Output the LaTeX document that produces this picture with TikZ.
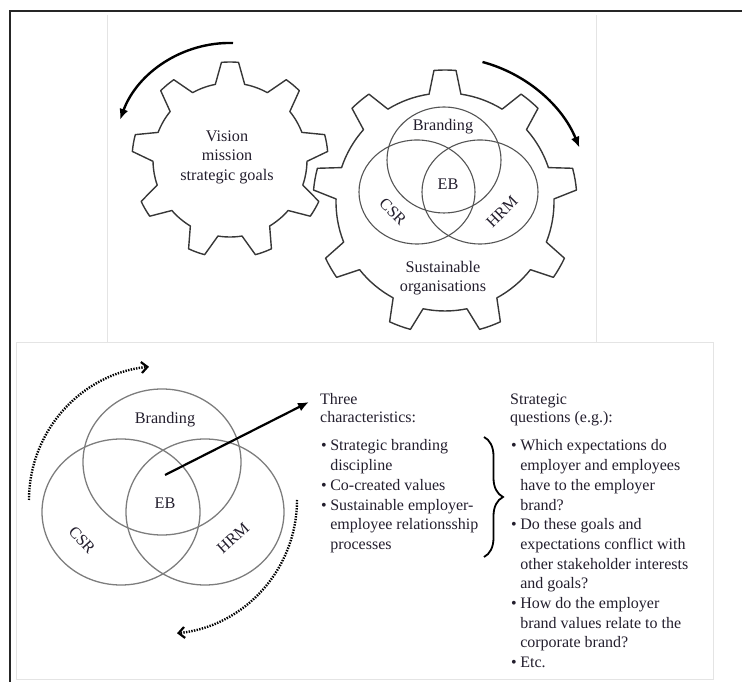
\documentclass[tikz,border=0pt]{standalone}
\usepackage{fontspec}
\setmainfont{Liberation Serif}
\usetikzlibrary{arrows.meta, positioning, decorations.pathreplacing}
\definecolor{geargray}{RGB}{55, 55, 55}
\definecolor{venngray}{RGB}{85, 85, 85}
\definecolor{vennlight}{RGB}{125, 125, 125}
\definecolor{panelgray}{RGB}{228, 228, 228}
\definecolor{inkdark}{RGB}{35, 30, 45}

\tikzset{
  gearline/.style={draw=geargray, line width=1.4pt, line join=round},
  vennline/.style={draw=venngray, line width=1.1pt},
  vennlow/.style={draw=vennlight, line width=1.3pt},
  gtext/.style={font=\fontsize{16.2}{19.5}\selectfont, text=inkdark, inner sep=0pt, align=center},
  coltext/.style={font=\fontsize{16}{19.7}\selectfont, text=inkdark, inner sep=0pt},
  rotarrow/.style={line width=2.4pt, -{Latex[length=11pt, width=9pt]}},
  dotarrow/.style={line width=2.4pt, dash pattern=on 1.4pt off 1.3pt, -{Straight Barb[length=6pt, width=11pt, line width=2.2pt]}},
}

\begin{document}
\begin{tikzpicture}[x=1pt, y=1pt]
    \useasboundingbox (0,0) rectangle (742,682);

    % frame and panels
    \draw[panelgray, line width=0.9pt] (107,667) -- (107,340);
    \draw[panelgray, line width=0.9pt] (596,667) -- (596,340);
    \draw[panelgray, line width=0.9pt] (16,3) rectangle (713,340);
    \draw[black!85, line width=1.8pt] (742,671) -- (10,671) -- (10,0);

    % left gear
    \draw[gearline, shift={(230,522)}] (79:77)
      \foreach \k in {0,...,8} {
        -- ({90+40*\k-5}:98) arc[start angle={90+40*\k-5}, end angle={90+40*\k+5}, radius=98]
        -- ({90+40*\k+11}:77) arc[start angle={90+40*\k+11}, end angle={90+40*\k+29}, radius=77]
      } -- cycle;

    % right gear
    \draw[gearline, shift={(445,480)}] (81.6:109)
      \foreach \k in {0,...,8} {
        -- ({90+40*\k-4.8}:132) arc[start angle={90+40*\k-4.8}, end angle={90+40*\k+4.8}, radius=132]
        -- ({90+40*\k+8.4}:109) arc[start angle={90+40*\k+8.4}, end angle={90+40*\k+31.6}, radius=109]
      } -- cycle;

    % rotation arrows
    \draw[rotarrow] (233,639) arc[start angle=88.5, end angle=160, radius=117];
    \draw[rotarrow] (482.5,620) arc[start angle=75, end angle=22, radius=145];

    \node[gtext] (vision) at (227,525) {Vision\\mission\\strategic goals};

    % venn inside the right gear
    \draw[vennline] (444,522) ellipse[x radius=57, y radius=53];
    \draw[vennline] (417,490) ellipse[x radius=58, y radius=52];
    \draw[vennline] (480,490) ellipse[x radius=58, y radius=52];
    \node[gtext] (brandup) at (443,555) {Branding};
    \node[gtext] (ebup) at (448,498) {EB};
    \node[gtext, rotate=-45] (csrup) at (393,470) {CSR};
    \node[gtext, rotate=45] (hrmup) at (502,470) {HRM};
    \node[gtext] (sustain) at (443,404) {Sustainable\\organisations};

    % lower venn
    \draw[vennlow] (162,220) ellipse[x radius=79, y radius=73];
    \draw[vennlow] (121,170) ellipse[x radius=79, y radius=73];
    \draw[vennlow] (205,170) ellipse[x radius=79, y radius=73];
    \node[gtext] (brandlow) at (165,262) {Branding};
    \node[gtext] (eblow) at (165,179) {EB};
    \node[gtext, rotate=-48] (csrlow) at (82,142) {CSR};
    \node[gtext, rotate=42] (hrmlow) at (233,144) {HRM};

    % dotted rotation around the lower venn
    \draw[dotarrow] (29,182) arc[start angle=180, end angle=96, radius=134];
    \draw[dotarrow] (297,182) arc[start angle=0, end angle=-84, radius=134];

    % columns of text
    \node[coltext, anchor=base west] (charhead) at (320,277)
      {\fontsize{16}{18}\selectfont\begin{tabular}[t]{@{}l@{}}Three\\characteristics:\end{tabular}};
    \node[coltext, anchor=base west] (questhead) at (510,277)
      {\fontsize{16}{18}\selectfont\begin{tabular}[t]{@{}l@{}}Strategic\\questions (e.g.):\end{tabular}};

    \node[coltext, anchor=base west] (charlist) at (321,231)
      {\begin{tabular}[t]{@{}l@{\hspace{3.5pt}}l@{}}
        \textbullet & Strategic branding\\
                    & discipline\\
        \textbullet & Co-created values\\
        \textbullet & Sustainable employer-\\
                    & employee relationsship\\
                    & processes
      \end{tabular}};
    \node[coltext, anchor=base west] (questlist) at (511,231)
      {\begin{tabular}[t]{@{}l@{\hspace{3.5pt}}l@{}}
        \textbullet & Which expectations do\\
                    & employer and employees\\
                    & have to the employer\\
                    & brand?\\
        \textbullet & Do these goals and\\
                    & expectations conflict with\\
                    & other stakeholder interests\\
                    & and goals?\\
        \textbullet & How do the employer\\
                    & brand values relate to the\\
                    & corporate brand?\\
        \textbullet & Etc.
      \end{tabular}};

    % arrow from EB and brace
    \coordinate (ebtail) at (165,207);
    \coordinate (ebtip) at (309,280);
    \draw[line width=2.2pt, -{Latex[length=11pt, width=9pt]}] (ebtail) -- (ebtip);
    \draw[line width=1.8pt, decorate, decoration={brace, amplitude=19pt}] (484,245) -- (484,125);

\end{tikzpicture}
\end{document}
